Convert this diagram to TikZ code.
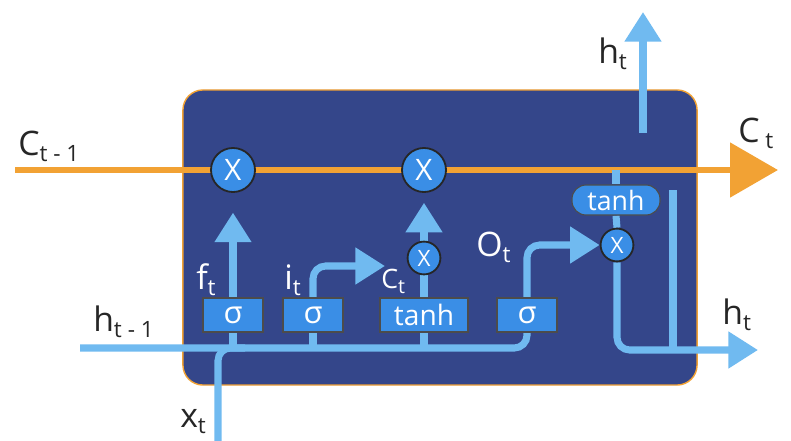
\documentclass[tikz,border=0pt]{standalone}
\usepackage{fontspec}
\setmainfont{Open Sans}
\usetikzlibrary{arrows.meta}
\definecolor{cellbg}{RGB}{52,70,138}
\definecolor{gatefill}{RGB}{58,142,230}
\definecolor{flowblue}{RGB}{112,186,240}
\definecolor{cellorange}{RGB}{242,162,52}
\newcommand\lsub[3][16]{#2{\fontsize{#1}{#1}\selectfont\raisebox{-0.55ex}{#3}}}
\pgfdeclarelayer{back}
\pgfdeclarelayer{wires}
\pgfsetlayers{back,wires,main}

\begin{document}
\begin{tikzpicture}[x=0.025cm,y=-0.025cm,
  flow/.style={draw=flowblue,line width=5pt,rounded corners=9pt},
  tip/.style={-{Triangle[width=25pt,length=21pt]}},
  cellflow/.style={draw=cellorange,line width=4.5pt,-{Triangle[width=38pt,length=34pt]}},
  mult/.style={circle,draw=black!85,line width=1.3pt,fill=gatefill,text=white,inner sep=0pt,minimum size=1.1cm,font=\fontsize{21}{21}\selectfont},
  smult/.style={mult,minimum size=0.82cm,font=\fontsize{16}{16}\selectfont},
  gate/.style={draw=black!70,line width=0.8pt,fill=gatefill,text=white,minimum width=1.5cm,minimum height=0.85cm,inner sep=0pt,font=\fontsize{22}{22}\selectfont},
  pill/.style={gate,rounded corners=0.35cm,minimum width=2.2cm,minimum height=0.75cm,font=\fontsize{19}{19}\selectfont},
  outlbl/.style={anchor=base west,inner sep=0pt,text=black!85,font=\fontsize{24}{24}\selectfont},
  inlbl/.style={outlbl,text=white}]
\useasboundingbox (0,0) rectangle (791,441);
\begin{pgfonlayer}{back}
\node[draw=cellorange,line width=1pt,fill=cellbg,rounded corners=0.5cm,minimum width=12.85cm,minimum height=7.375cm] (lstm) at (440,237.5) {};
\end{pgfonlayer}

\node[mult] (mf) at (233,170) {X};
\node[mult] (mi) at (424,170) {X};
\node[smult] (mc) at (424,258) {X};
\node[smult] (mo) at (617,245) {X};
\node[gate] (gf) at (233,315) {σ};
\node[gate] (gi) at (313,315) {σ};
\node[gate,minimum width=2.2cm,font=\fontsize{20}{20}\selectfont] (gc) at (424,315) {tanh};
\node[gate] (go) at (527,315) {σ};
\node[pill] (th) at (616,200) {tanh};

\coordinate (cin) at (15,170);
\coordinate (cout) at (778,170);
\coordinate (hin) at (80,348);
\coordinate (xin) at (218,441);
\coordinate (xj) at (245,348);
\coordinate (ct) at (385,266);
\coordinate (hout) at (758,350);
\coordinate (side) at (673,190);
\coordinate (hbot) at (643,133);
\coordinate (htop) at (643,12);

\node[outlbl] at (18,155) {\lsub{C}{t - 1}};
\node[outlbl] at (738,142) {\lsub{C}{ t}};
\node[outlbl] at (598,63) {\lsub{h}{t}};
\node[outlbl] at (722,324) {\lsub{h}{t}};
\node[outlbl] at (93,331) {\lsub{h}{t - 1}};
\node[outlbl] at (180,427) {\lsub{x}{t}};
\node[inlbl] at (196,289) {\lsub{f}{t}};
\node[inlbl] at (284,289) {\lsub{i}{t}};
\node[inlbl,font=\fontsize{19}{19}\selectfont] at (381,288) {\lsub[14]{C}{t}};
\node[inlbl] at (476,256) {\lsub{O}{t}};

\begin{pgfonlayer}{back}
  \draw[cellflow] (cin) -- (cout);
\end{pgfonlayer}
\begin{pgfonlayer}{wires}
  \draw[flow] (hin) -| (go.south);
  \draw[flow] (xin) |- (xj);
  \foreach \g in {gf,gi,gc}
    \draw[flow] (\g.south |- hin) -- (\g.south);
  \draw[flow,tip,shorten >=14pt] (gf.north) -- (mf.south);
  \draw[flow,tip] (gi.north) |- (ct);
  \draw[flow] (gc.north) -- (mc.south);
  \draw[flow,tip,shorten >=7pt] (mc.north) -- (mi.south);
  \draw[flow,tip] (go.north) |- (mo.west);
  \draw[flow] (th.north |- cin) -- (th.north);
  \draw[flow] (th.south) -- (mo.north);
  \draw[flow,tip] (mo.south) |- (hout);
  \draw[flow] (side) -- (side |- hout);
  \draw[flow,tip] (hbot) -- (htop);
\end{pgfonlayer}
\end{tikzpicture}
\end{document}
